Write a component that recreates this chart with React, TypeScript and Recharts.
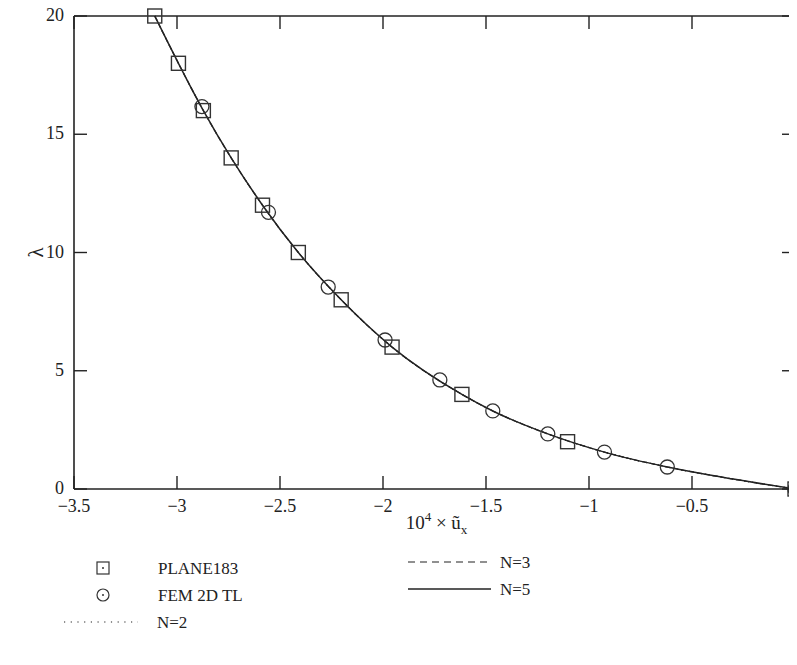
import {
  ComposedChart,
  Label,
  Legend,
  Line,
  ReferenceLine,
  Scatter,
  XAxis,
  YAxis,
} from "recharts";

// readings taken off the reference plot
const xTicks = [-3.5, -3, -2.5, -2, -1.5, -1, -0.5, 0];
const yTicks = [0, 5, 10, 15, 20];

const plane183X = [-3.108, -2.993, -2.872, -2.737, -2.585, -2.411, -2.203, -1.956, -1.617, -1.104, 0];
const plane183Y = [20, 18, 16, 14, 12, 10, 8, 6, 4, 2, 0];

const fem2dX = [-2.879, -2.556, -2.266, -1.99, -1.724, -1.467, -1.2, -0.925, -0.62, 0];
const fem2dY = [16.17, 11.7, 8.54, 6.3, 4.61, 3.3, 2.33, 1.56, 0.93, 0];

const curveX = [-3.108, -2.993, -2.872, -2.737, -2.585, -2.411, -2.203, -1.956, -1.617, -1.467, -1.2, -0.925, -0.62, -0.3, 0];
const n2Y = [20, 18, 16, 14, 12, 10, 8, 6, 4, 3.3, 2.33, 1.56, 0.93, 0.42, 0];
const n3Y = [20, 18, 16, 14, 12, 10, 8, 6, 4, 3.3, 2.33, 1.56, 0.93, 0.42, 0];
const n5Y = [20, 18, 16, 14, 12, 10, 8, 6, 4, 3.3, 2.33, 1.56, 0.93, 0.42, 0];

const zip = (xs: number[], ys: number[]) => xs.map((x, i) => ({ x, y: ys[i] }));

const INK = "#222";
const FONT = "'Liberation Serif', 'DejaVu Serif', serif";
const TICK = 13;

const W = 797;
const H = 650;
const M = { top: 16, right: 2, bottom: 0, left: 0 };
const Y_AXIS_W = 74;
const X_AXIS_H = 161;
const PLOT_W = W - M.left - M.right - Y_AXIS_W;
const PLOT_H = H - M.top - M.bottom - X_AXIS_H;

const fmt = (v: number) => (v < 0 ? `\u2212${Math.abs(v)}` : `${v}`);

// bottom tick + its mirror on the top edge of the box
const BottomTick = ({ x, y, payload }: any) => (
  <g>
    <line x1={x} x2={x} y1={y} y2={y - TICK} stroke={INK} strokeWidth={1.4} />
    <line x1={x} x2={x} y1={y - PLOT_H} y2={y - PLOT_H + TICK} stroke={INK} strokeWidth={1.4} />
    <text x={x} y={y + 23} textAnchor="middle" fontSize={18} fill={INK} fontFamily={FONT}>
      {fmt(payload.value)}
    </text>
  </g>
);
// left tick + its mirror on the right edge; the 0 tick also carries the right frame
const LeftTick = ({ x, y, payload }: any) => (
  <g>
    <line x1={x} x2={x + TICK} y1={y} y2={y} stroke={INK} strokeWidth={1.4} />
    <line x1={x + PLOT_W} x2={x + PLOT_W - TICK} y1={y} y2={y} stroke={INK} strokeWidth={1.4} />
    {payload.value === 0 && (
      <line x1={x + PLOT_W} x2={x + PLOT_W} y1={y} y2={y - PLOT_H} stroke={INK} strokeWidth={1.6} />
    )}
    <text x={x - 10} y={y + 5} textAnchor="end" fontSize={18} fill={INK} fontFamily={FONT}>
      {payload.value}
    </text>
  </g>
);

const SquareMark = ({ cx, cy }: any) => (
  <rect x={cx - 7} y={cy - 7} width={14} height={14} fill="none" stroke="#333" strokeWidth={1.4} />
);
const CircleMark = ({ cx, cy }: any) => (
  <circle cx={cx} cy={cy} r={7} fill="none" stroke="#333" strokeWidth={1.3} />
);

const LegendBox = () => (
  <svg width={W} height={100} style={{ display: "block" }} fontFamily={FONT} fontSize={17} fill={INK}>
    <rect x={97} y={14} width={12} height={12} fill="none" stroke="#333" strokeWidth={1.2} />
    <circle cx={103} cy={20} r={1} fill="#333" />
    <text x={158} y={26}>PLANE183</text>
    <circle cx={103} cy={47} r={6} fill="none" stroke="#333" strokeWidth={1.2} />
    <circle cx={103} cy={47} r={1} fill="#333" />
    <text x={158} y={53}>FEM 2D TL</text>
    <line x1={64} x2={138} y1={74} y2={74} stroke={INK} strokeWidth={1.2} strokeDasharray="1.2 5.5" />
    <text x={157} y={80}>N=2</text>
    <line x1={408} x2={491} y1={14} y2={14} stroke={INK} strokeWidth={1.2} strokeDasharray="7 5" />
    <text x={500} y={20}>N=3</text>
    <line x1={408} x2={491} y1={41} y2={41} stroke={INK} strokeWidth={1.4} />
    <text x={500} y={47}>N=5</text>
  </svg>
);

export default function App() {
  return (
    <div style={{ margin: -8, width: W, height: H }}>
      <ComposedChart width={W} height={H} margin={M}>
        <XAxis
          type="number"
          dataKey="x"
          domain={[-3.5, 0]}
          ticks={xTicks}
          interval={0}
          height={X_AXIS_H}
          tickSize={0}
          tickMargin={0}
          tickLine={false}
          tick={<BottomTick />}
          axisLine={{ stroke: INK, strokeWidth: 1.6 }}
        >
          <Label
            content={({ viewBox }: any) => (
              <text
                x={viewBox.x + viewBox.width / 2 + 2}
                y={viewBox.y + 40}
                textAnchor="middle"
                fontSize={19}
                fill={INK}
                fontFamily={FONT}
              >
                10
                <tspan dy={-8} fontSize={13}>4</tspan>
                <tspan dy={8}> × ũ</tspan>
                <tspan dy={5} fontSize={13}>x</tspan>
              </text>
            )}
          />
        </XAxis>
        <YAxis
          type="number"
          dataKey="y"
          domain={[0, 20]}
          ticks={yTicks}
          interval={0}
          width={Y_AXIS_W}
          tickSize={0}
          tickMargin={0}
          tickLine={false}
          tick={<LeftTick />}
          axisLine={{ stroke: INK, strokeWidth: 1.6 }}
        >
          <Label
            content={({ viewBox }: any) => (
              <text
                x={43}
                y={viewBox.y + viewBox.height / 2}
                textAnchor="middle"
                fontSize={21}
                fill={INK}
                fontFamily={FONT}
                transform={`rotate(-90 43 ${viewBox.y + viewBox.height / 2})`}
              >
                λ
              </text>
            )}
          />
        </YAxis>

        {/* top edge of the box */}
        <ReferenceLine y={20} stroke={INK} strokeWidth={1.6} ifOverflow="visible" />

        <Legend
          layout="horizontal"
          align="center"
          verticalAlign="middle"
          content={<LegendBox />}
          wrapperStyle={{ position: "absolute", left: 0, top: 548, bottom: "auto", width: W }}
        />
        <Line
          data={zip(curveX, n2Y)}
          dataKey="y"
          type="monotone"
          stroke={INK}
          strokeWidth={1.2}
          strokeDasharray="1 3"
          dot={false}
          activeDot={false}
          isAnimationActive={false}
          legendType="none"
        />
        <Line
          data={zip(curveX, n3Y)}
          dataKey="y"
          type="monotone"
          stroke={INK}
          strokeWidth={1.2}
          strokeDasharray="5 3"
          dot={false}
          activeDot={false}
          isAnimationActive={false}
          legendType="none"
        />
        <Line
          data={zip(curveX, n5Y)}
          dataKey="y"
          type="monotone"
          stroke={INK}
          strokeWidth={1.5}
          dot={false}
          activeDot={false}
          isAnimationActive={false}
          legendType="none"
        />
        <Scatter
          data={zip(plane183X, plane183Y)}
          shape={<SquareMark />}
          isAnimationActive={false}
          legendType="none"
        />
        <Scatter
          data={zip(fem2dX, fem2dY)}
          shape={<CircleMark />}
          isAnimationActive={false}
          legendType="none"
        />
      </ComposedChart>
    </div>
  );
}
